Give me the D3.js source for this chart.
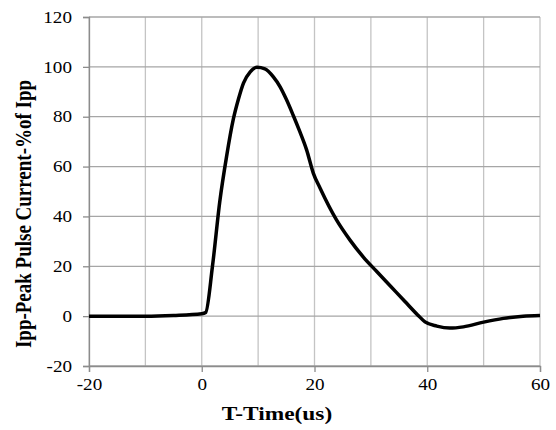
<!DOCTYPE html>
<html>
<head>
<meta charset="utf-8">
<script src="https://cdn.jsdelivr.net/npm/d3@7"></script>
<style>
  body { margin: 0; background: #fff; }
  svg text { font-family: "Liberation Serif", "Times New Roman", serif; }
</style>
</head>
<body>
<div id="chart"></div>
<script>
// pulse waveform
var timeUs = [-20, -10, -5, 0, 0.7, 1.9, 3.2, 4.4, 5.6, 6.5, 7.4, 8.6, 9.8, 11.2, 12.7, 13.9, 15, 16.2, 17.4, 18.6, 19.8, 21, 23.9, 26.3, 28.7, 31, 33.5, 36, 38.3, 39.6, 41.7, 44, 46.4, 50, 53.5, 57, 60];
var currentPct = [0, 0, 0.3, 1, 1.5, 20, 46, 64, 79, 87, 93.5, 98, 99.8, 99.2, 96, 92, 87, 80.7, 74, 66.7, 57.3, 51.3, 38.6, 30.5, 23.6, 18, 12, 6, 0.5, -2.3, -4, -4.8, -4.3, -2.4, -0.9, 0, 0.3];
var xTicks = [-20, -10, 0, 10, 20, 30, 40, 50, 60];
var xLabels = [-20, 0, 20, 40, 60];
var yTicks = [-20, 0, 20, 40, 60, 80, 100, 120];

var width = 556, height = 430;
var margin = {top: 17, right: 16, bottom: 64, left: 89};
var w = width - margin.left - margin.right;
var h = height - margin.top - margin.bottom;
var serif = "Liberation Serif, Times New Roman, serif";
var stretch = 1.16; // the original text is a bit wide

var data = timeUs.map(function(t, i) { return {x: t, y: currentPct[i]}; });

var xScale = d3.scaleLinear().domain([-20, 60]).range([0, w]);
var yScale = d3.scaleLinear().domain([-20, 120]).range([h, 0]);

var svg = d3.select("#chart").append("svg")
  .attr("width", width)
  .attr("height", height)
  .append("g")
  .attr("transform", "translate(" + margin.left + "," + margin.top + ")");

// vertical grid
svg.append("g")
  .selectAll("line")
  .data(xTicks)
  .enter()
  .append("line")
  .attr("x1", function(d) { return xScale(d); })
  .attr("x2", function(d) { return xScale(d); })
  .attr("y1", 0)
  .attr("y2", h)
  .attr("stroke", "#c4c4c4")
  .attr("stroke-width", 1.3);

// horizontal grid
svg.append("g")
  .selectAll("line")
  .data(yTicks)
  .enter()
  .append("line")
  .attr("x1", 0)
  .attr("x2", w)
  .attr("y1", function(d) { return yScale(d); })
  .attr("y2", function(d) { return yScale(d); })
  .attr("stroke", "#a6a6a6")
  .attr("stroke-width", 1.3);

var xAxis = d3.axisBottom(xScale)
  .tickValues(xLabels)
  .tickSize(6)
  .tickPadding(3)
  .tickFormat(function(d) { return String(d); });

var yAxis = d3.axisLeft(yScale)
  .tickValues(yTicks)
  .tickSize(6)
  .tickPadding(0)
  .tickFormat(function(d) { return String(d); });

var gx = svg.append("g")
  .attr("transform", "translate(0," + h + ")")
  .call(xAxis);

var gy = svg.append("g")
  .call(yAxis);

[gx, gy].forEach(function(g) {
  g.attr("font-family", serif).attr("font-size", 16.5);
  g.select(".domain").attr("stroke", "#8c8c8c").attr("stroke-width", 1.3);
  g.selectAll(".tick line").attr("stroke", "#8c8c8c").attr("stroke-width", 1.3);
  g.selectAll(".tick text")
    .attr("fill", "#000")
    .attr("font-family", serif)
    .attr("font-size", 16.5);
});
gx.selectAll(".tick text")
  .attr("dy", "0.9em")
  .attr("transform", "scale(" + stretch + ",1)");
gy.selectAll(".tick text")
  .attr("x", -17 / stretch)
  .attr("transform", "scale(" + stretch + ",1)");

var line = d3.line()
  .x(function(d) { return xScale(d.x); })
  .y(function(d) { return yScale(d.y); })
  .curve(d3.curveMonotoneX);

svg.append("path")
  .datum(data)
  .attr("d", line)
  .attr("fill", "none")
  .attr("stroke", "#000")
  .attr("stroke-width", 3.5)
  .attr("stroke-linejoin", "round");

// axis titles
svg.append("text")
  .attr("transform", "translate(" + (277 - margin.left) + "," + (420 - margin.top) + ") scale(1.2,1)")
  .attr("text-anchor", "middle")
  .attr("font-family", serif)
  .attr("font-size", 19.5)
  .attr("font-weight", "bold")
  .text("T-Time(us)");

svg.append("text")
  .attr("transform", "translate(" + (31 - margin.left) + "," + (214 - margin.top) + ") rotate(-90) scale(1," + stretch + ")")
  .attr("text-anchor", "middle")
  .attr("font-family", serif)
  .attr("font-size", 19)
  .attr("font-weight", "bold")
  .text("Ipp-Peak Pulse Current-%of Ipp");
</script>
</body>
</html>
